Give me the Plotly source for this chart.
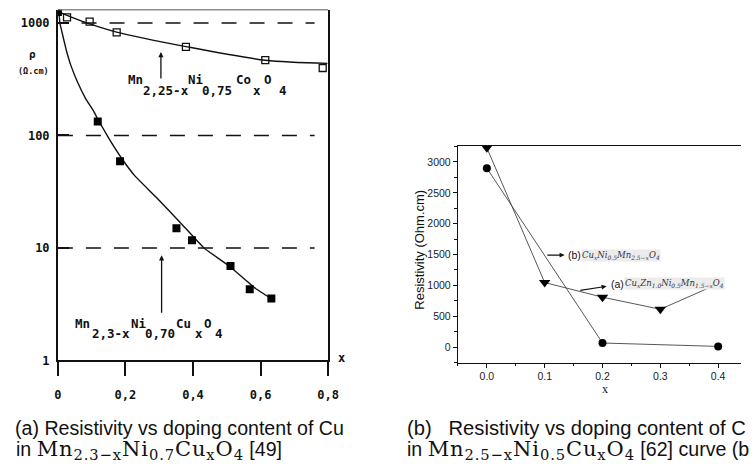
import numpy as np
import plotly.graph_objects as go

W, H = 752, 464

# ---------------- data: panel (a) ----------------
cu_x = [0.0, 0.118, 0.184, 0.351, 0.397, 0.511, 0.568, 0.632]
cu_rho = [1250, 133, 59, 15, 11.7, 6.9, 4.3, 3.55]
co_x = [0.027, 0.094, 0.174, 0.379, 0.614, 0.784]
co_rho = [1120, 1030, 824, 614, 468, 398]
cu_fit_x = [0.0, 0.0029, 0.0058, 0.0125, 0.0241, 0.0386, 0.058, 0.0821, 0.1065, 0.118,
            0.150, 0.1906, 0.2272, 0.2902, 0.3627, 0.4324, 0.5079, 0.5853, 0.6317]
cu_fit_rho = [1300, 1258, 1002, 819, 585, 418, 299, 213, 163, 140,
              95.3, 61.5, 44, 28.4, 16.8, 10.0, 6.89, 4.36, 3.54]
co_fit_x = [0.0, 0.0725, 0.174, 0.379, 0.614, 0.798]
co_fit_rho = [1260, 1033, 830, 617, 467, 438]
ref_levels = [1000, 100, 10]
ref_start = [0.07, 0.0, 0.0]
ref_end = [0.76, 0.76, 0.76]
a_xticks = [0, 0.2, 0.4, 0.6, 0.8]
a_xticktext = ["0", "0,2", "0,4", "0,6", "0,8"]
a_yticks = [1, 10, 100, 1000]
a_yticktext = ["1", "10", "100", "1000"]

# ---------------- data: panel (b) ----------------
b_x_circ = [0.0, 0.2, 0.4]
b_r_circ = [2900, 65, 10]
b_x_tri = [0.0, 0.1, 0.2, 0.3, 0.4]
b_r_tri = [3230, 1045, 808, 612, 1025]

def px(xp):
    return xp / W

def py(yp):
    return 1 - yp / H

MONO = "DejaVu Sans Mono"
SANS = "Liberation Sans"
SERIF = "DejaVu Serif"

fig = go.Figure()

# dashed reference lines (panel a)
for lvl, s, e in zip(ref_levels, ref_start, ref_end):
    fig.add_trace(go.Scatter(x=[s, e], y=[lvl, lvl], mode="lines",
                             line=dict(color="#111", width=1.3, dash="15px,13px"),
                             xaxis="x", yaxis="y", showlegend=False, hoverinfo="skip"))

fig.add_trace(go.Scatter(x=co_fit_x, y=co_fit_rho, mode="lines",
                         line=dict(color="#111", width=1.4, shape="spline", smoothing=0.8),
                         xaxis="x", yaxis="y", showlegend=False))
fig.add_trace(go.Scatter(x=cu_fit_x, y=cu_fit_rho, mode="lines",
                         line=dict(color="#111", width=1.4, shape="spline", smoothing=0.3),
                         xaxis="x", yaxis="y", showlegend=False))
fig.add_trace(go.Scatter(x=co_x, y=co_rho, mode="markers",
                         marker=dict(symbol="square-open", size=7, color="#111", line=dict(width=1.3)),
                         xaxis="x", yaxis="y", showlegend=False))
fig.add_trace(go.Scatter(x=cu_x, y=cu_rho, mode="markers",
                         marker=dict(symbol="square", size=8, color="#000"),
                         xaxis="x", yaxis="y", showlegend=False))

# panel b
fig.add_trace(go.Scatter(x=b_x_tri, y=b_r_tri, mode="lines+markers",
                         line=dict(color="#444", width=0.9),
                         marker=dict(symbol="triangle-down", size=10, color="#000"),
                         xaxis="x2", yaxis="y2", showlegend=False, cliponaxis=False))
fig.add_trace(go.Scatter(x=b_x_circ, y=b_r_circ, mode="lines+markers",
                         line=dict(color="#444", width=0.9),
                         marker=dict(symbol="circle", size=8, color="#000"),
                         xaxis="x2", yaxis="y2", showlegend=False, cliponaxis=False))

ann = []

def text_at(text, x, y, font, xanchor="center", yanchor="middle", **kw):
    d = dict(text=text, x=px(x), y=py(y), xref="paper", yref="paper",
             xanchor=xanchor, yanchor=yanchor, showarrow=False, font=font)
    d.update(kw)
    ann.append(d)

mono_b = dict(family=MONO, size=12.5, color="#111", weight="bold")

# ---- panel a texts ----
upper = [("Mn", 124, 81), ("2,25-x", 140, 92), ("Ni", 186, 81), ("0,75", 200, 92),
         ("Co", 235, 81), ("x", 252, 92), ("O", 263, 81), ("4", 279, 92)]
lower = [("Mn", 70, 328), ("2,3-x", 88, 338.5), ("Ni", 128, 328), ("0,70", 142, 338.5),
         ("Cu", 173, 328), ("x", 193, 338.5), ("O", 202, 328), ("4", 213, 338.5)]
for t, x, y in upper + lower:
    text_at(t, x, y, mono_b, xanchor="left")

text_at("ρ", 29, 55, dict(family=MONO, size=11, color="#111", weight="bold"))
text_at("(Ω.cm)", 30, 72, dict(family=MONO, size=8.5, color="#111", weight="bold"))
text_at("x", 344, 363, dict(family=MONO, size=12, color="#111", weight="bold"))

# arrows panel a
ann.append(dict(x=0.305, y=np.log10(553), xref="x", yref="y", ax=0, ay=28, text="",
                showarrow=True, arrowhead=2, arrowsize=0.8, arrowwidth=1.3, arrowcolor="#111"))
ann.append(dict(x=0.307, y=np.log10(8.6), xref="x", yref="y", ax=0, ay=59, text="",
                showarrow=True, arrowhead=2, arrowsize=0.8, arrowwidth=1.3, arrowcolor="#111"))

# ---- panel b texts ----
ann.append(dict(x=0.1344, y=1490, xref="x2", yref="y2", ax=0.102, ay=1490, axref="x2", ayref="y2",
                text="", showarrow=True, arrowhead=2, arrowsize=0.9, arrowwidth=1.1, arrowcolor="#111"))
ann.append(dict(x=0.207, y=984, xref="x2", yref="y2", ax=0.159, ay=915, axref="x2", ayref="y2",
                text="", showarrow=True, arrowhead=2, arrowsize=0.9, arrowwidth=1.1, arrowcolor="#111"))
sans_s = dict(family=SANS, size=10.5, color="#111")
text_at("(b)", 573, 259, sans_s, xanchor="left")
text_at("(a)", 617, 288, sans_s, xanchor="left")
small_it = dict(family=SERIF, size=8.5, color="#333", style="italic")
text_at("Cu<sub>x</sub>Ni<sub>0.5</sub>Mn<sub>2.5−x</sub>O<sub>4</sub>", 589, 259.5, small_it,
        xanchor="left", bgcolor="#ececec", borderpad=0)
text_at("Cu<sub>x</sub>Zn<sub>1.0</sub>Ni<sub>0.5</sub>Mn<sub>1.5−x</sub>O<sub>4</sub>", 633, 288, small_it,
        xanchor="left", bgcolor="#ececec", borderpad=0)
text_at("Resistivity (Ohm.cm)", 424, 254, dict(family=SANS, size=13, color="#111"), textangle=-90)
text_at("x", 613, 395, dict(family="Liberation Serif", size=12, color="#111"))

# ---- captions ----
def serif(s):
    return ('<span style="font-family:DejaVu Serif;font-size:21px;letter-spacing:0.9px">' + s + '</span>')

cap_a = dict(family=SANS, size=19.6, color="#111")
cap_b = dict(family=SANS, size=20.2, color="#111")
text_at("(a) Resistivity vs doping content of Cu", 9, 435, cap_a, xanchor="left")
text_at("in " + serif("Mn<sub>2.3−x</sub>Ni<sub>0.7</sub>Cu<sub>x</sub>O<sub>4</sub>") + " [49]",
        10, 457, cap_a, xanchor="left")
text_at("(b)   Resistivity vs doping content of C", 409, 435, cap_b, xanchor="left")
text_at("in " + serif("Mn<sub>2.5−x</sub>Ni<sub>0.5</sub>Cu<sub>x</sub>O<sub>4</sub>") + " [62] curve (b",
        409, 457, cap_a, xanchor="left")

axis_a_font = dict(family=MONO, size=12, color="#111", weight="bold")
ydom_a = [py(366), py(10)]
fig.update_layout(
    width=W, height=H, margin=dict(l=0, r=0, t=0, b=0),
    paper_bgcolor="white", plot_bgcolor="white",
    xaxis=dict(domain=[px(55), px(330.7)], range=[0, 0.8], tickvals=a_xticks, ticktext=a_xticktext,
               ticks="outside", ticklen=14, tickwidth=1.6, tickcolor="#111", ticklabelstandoff=8,
               showline=True, linewidth=1.8, linecolor="#111", mirror=False,
               showgrid=False, zeroline=False, tickfont=axis_a_font, anchor="y"),
    yaxis=dict(domain=ydom_a, type="log", range=[0, 3.117], tickvals=a_yticks,
               ticktext=a_yticktext, ticks="outside", ticklen=4, tickcolor="rgba(0,0,0,0)",
               showline=True, linewidth=1.8, linecolor="#111", mirror=True,
               showgrid=False, zeroline=False, tickfont=axis_a_font, anchor="x"),
    yaxis3=dict(domain=ydom_a, type="log", range=[0, 3.117], tickvals=a_yticks,
                ticks="inside", ticklen=11, tickwidth=1.6, tickcolor="#111", showticklabels=False,
                showline=False, showgrid=False, zeroline=False, overlaying="y", anchor="x"),
    xaxis2=dict(domain=[px(463), 1.0], range=[-0.0503, 0.4395], tick0=0, dtick=0.1, tickformat=".1f",
                ticks="outside", ticklen=4, tickcolor="#111",
                minor=dict(dtick=0.05, ticks="outside", ticklen=2.5, tickcolor="#111"),
                showline=True, linewidth=1, linecolor="#111", mirror=True,
                showgrid=False, zeroline=False, tickfont=dict(family=SANS, size=10.5, color="#222"),
                anchor="y2"),
    yaxis2=dict(domain=[py(368.3), py(148)], range=[-255, 3263], tick0=0, dtick=500,
                ticks="outside", ticklen=4, tickcolor="#111",
                minor=dict(dtick=250, ticks="outside", ticklen=2.5, tickcolor="#111"),
                showline=True, linewidth=1, linecolor="#111", mirror=False,
                showgrid=False, zeroline=False, tickfont=dict(family=SANS, size=10.5, color="#222"),
                anchor="x2"),
    annotations=ann,
    shapes=[dict(type="line", xref="paper", yref="paper", x0=px(55), x1=px(330.7), y0=py(10), y1=py(10),
                 line=dict(color="#555", width=1))],
)

# invisible trace to activate the inside-tick overlay axis
fig.add_trace(go.Scatter(x=[None], y=[None], xaxis="x", yaxis="y3", showlegend=False, hoverinfo="skip"))

fig.write_html("out.html")
